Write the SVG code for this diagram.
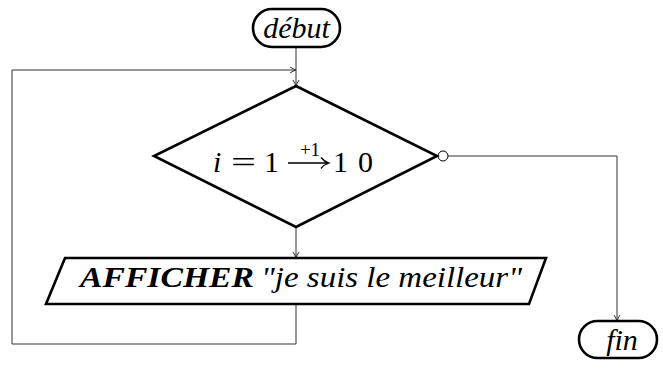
<svg xmlns="http://www.w3.org/2000/svg" width="663" height="370" viewBox="0 0 663 370">
<style>
.node{fill:#fff;stroke:#000;stroke-width:2.6;stroke-linejoin:miter}
.conn{fill:none;stroke:#333;stroke-width:1}
.t{font-family:'Liberation Serif',serif;fill:#000}
.it{font-style:italic}
</style>
<defs>
<marker id="arr" viewBox="0 0 8 8" refX="7" refY="4" markerWidth="8" markerHeight="8" markerUnits="userSpaceOnUse" orient="auto">
<path d="M1,1 Q4,3 7,4 Q4,5 1,7" fill="none" stroke="#333" stroke-width="1"/>
</marker>
</defs>
<g id="connectors">
<path class="conn" d="M296,47 V86" marker-end="url(#arr)"/>
<path class="conn" d="M296,304 V344 H12 V70 H296" marker-end="url(#arr)"/>
<path class="conn" d="M296,227 V258" marker-end="url(#arr)"/>
<path class="conn" d="M448,156 H617 V321" marker-end="url(#arr)"/>
<circle cx="443" cy="156" r="5" fill="#fff" stroke="#000" stroke-width="1"/>
</g>
<g id="debut">
<rect class="node" x="253" y="9" width="87" height="38" rx="19"/>
<text class="t it" x="296.5" y="38" font-size="30" text-anchor="middle">début</text>
</g>
<g id="boucle">
<polygon class="node" points="296,86 437,156 296,227 154,156"/>
<text class="t it" x="213" y="172" font-size="30">i</text>
<text class="t" x="231" y="172" font-size="30" textLength="25" lengthAdjust="spacingAndGlyphs">=</text>
<text class="t" x="264" y="172" font-size="30">1</text>
<path d="M288,163 H328 M321,157.5 Q324,161.5 329,163 Q324,164.5 321,168.5" fill="none" stroke="#000" stroke-width="1.3"/>
<text class="t" x="310" y="156" font-size="19" text-anchor="middle">+1</text>
<text class="t" x="333" y="172" font-size="30" textLength="40" lengthAdjust="spacing">10</text>
</g>
<g id="afficher">
<polygon class="node" points="65,258 546,258 529,304 46,304"/>
<text class="t it" x="80" y="287" font-size="30" font-weight="bold" textLength="174" lengthAdjust="spacingAndGlyphs">AFFICHER</text>
<text class="t it" x="261" y="287" font-size="29" textLength="261" lengthAdjust="spacingAndGlyphs">"je suis le meilleur"</text>
</g>
<g id="fin">
<rect class="node" x="579" y="321" width="78" height="37" rx="18.5"/>
<text class="t it" x="622" y="350" font-size="30" text-anchor="middle">fin</text>
</g>
</svg>
